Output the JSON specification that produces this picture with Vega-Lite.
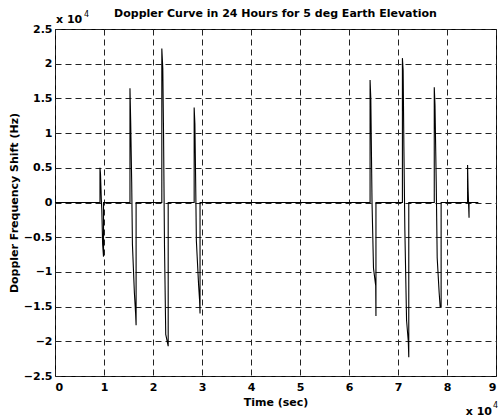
{
  "$schema": "https://vega.github.io/schema/vega-lite/v6.json",
  "width": 441,
  "height": 347,
  "autosize": "none",
  "padding": {"left": 55, "top": 29, "right": 3, "bottom": 41},
  "background": "white",
  "config": {
    "font": "DejaVu Sans",
    "view": {"stroke": "black", "strokeWidth": 1},
    "axis": {
      "domain": false,
      "grid": true,
      "gridColor": "#222",
      "gridDash": [6, 4],
      "gridWidth": 1,
      "gridOpacity": 1,
      "ticks": true,
      "tickColor": "black",
      "tickSize": 0,
      "labelOverlap": false,
      "labelFont": "DejaVu Sans",
      "labelFontSize": 11,
      "labelFontWeight": "bold",
      "labelColor": "black",
      "titleFont": "DejaVu Sans",
      "titleFontSize": 11,
      "titleFontWeight": "bold",
      "titleColor": "black"
    }
  },
  "title": {
    "text": "Doppler Curve in 24 Hours for 5 deg Earth Elevation",
    "font": "DejaVu Sans",
    "fontSize": 11,
    "fontWeight": "bold",
    "color": "black",
    "anchor": "middle",
    "baseline": "alphabetic",
    "offset": -17
  },
  "datasets": {
    "curve": [
      {"t": 0, "f": 0},
      {"t": 0.918, "f": 0},
      {"t": 0.918, "f": 0.5},
      {"t": 0.928, "f": 0.42},
      {"t": 0.945, "f": 0.05},
      {"t": 0.955, "f": -0.1},
      {"t": 0.972, "f": -0.6},
      {"t": 0.99, "f": -0.78},
      {"t": 0.99, "f": 0},
      {"t": 1.53, "f": 0},
      {"t": 1.53, "f": 1.645},
      {"t": 1.545, "f": 1.15},
      {"t": 1.565, "f": 0.3},
      {"t": 1.58, "f": -0.6},
      {"t": 1.62, "f": -1.3},
      {"t": 1.645, "f": -1.6},
      {"t": 1.655, "f": -1.77},
      {"t": 1.655, "f": 0},
      {"t": 2.18, "f": 0},
      {"t": 2.18, "f": 2.22},
      {"t": 2.2, "f": 1.93},
      {"t": 2.215, "f": 1.0},
      {"t": 2.235, "f": -0.65},
      {"t": 2.26, "f": -1.9},
      {"t": 2.31, "f": -2.07},
      {"t": 2.31, "f": 0},
      {"t": 2.84, "f": 0},
      {"t": 2.84, "f": 1.37},
      {"t": 2.855, "f": 1.13},
      {"t": 2.87, "f": 0.33},
      {"t": 2.885, "f": -0.55},
      {"t": 2.93, "f": -1.18},
      {"t": 2.95, "f": -1.4},
      {"t": 2.96, "f": -1.6},
      {"t": 2.96, "f": 0},
      {"t": 6.43, "f": 0},
      {"t": 6.43, "f": 1.765},
      {"t": 6.445, "f": 1.5},
      {"t": 6.47, "f": 0.0},
      {"t": 6.5, "f": -0.95},
      {"t": 6.545, "f": -1.2},
      {"t": 6.55, "f": -1.635},
      {"t": 6.55, "f": 0},
      {"t": 7.09, "f": 0},
      {"t": 7.09, "f": 2.08},
      {"t": 7.105, "f": 1.9},
      {"t": 7.12, "f": 0.8},
      {"t": 7.14, "f": -0.4},
      {"t": 7.175, "f": -1.7},
      {"t": 7.21, "f": -2.0},
      {"t": 7.22, "f": -2.23},
      {"t": 7.22, "f": 0},
      {"t": 7.74, "f": 0},
      {"t": 7.74, "f": 1.66},
      {"t": 7.755, "f": 1.4},
      {"t": 7.78, "f": 0.3},
      {"t": 7.8, "f": -0.8},
      {"t": 7.84, "f": -1.3},
      {"t": 7.86, "f": -1.5},
      {"t": 7.88, "f": -1.5},
      {"t": 7.88, "f": 0},
      {"t": 8.42, "f": 0},
      {"t": 8.42, "f": 0.54},
      {"t": 8.43, "f": 0.2},
      {"t": 8.45, "f": -0.22},
      {"t": 8.45, "f": 0},
      {"t": 8.64, "f": 0}
    ]
  },
  "layer": [
    {
      "data": {"name": "curve"},
      "transform": [{"window": [{"op": "row_number", "as": "i"}]}],
      "mark": {"type": "line", "color": "black", "strokeWidth": 1.1, "clip": true},
      "encoding": {
        "x": {
          "field": "t", "type": "quantitative",
          "scale": {"domain": [0, 9], "nice": false, "zero": false},
          "axis": {"values": [0,1,2,3,4,5,6,7,8,9], "tickCount": 20, "title": "Time (sec)", "labelPadding": 5, "titlePadding": 4, "format": "d"}
        },
        "y": {
          "field": "f", "type": "quantitative",
          "scale": {"domain": [-2.5, 2.5], "nice": false, "zero": false},
          "axis": {"values": [-2.5,-2,-1.5,-1,-0.5,0,0.5,1,1.5,2,2.5], "tickCount": 20, "title": "Doppler Frequency Shift (Hz)", "labelPadding": 3, "titlePadding": 4, "format": "~g"}
        },
        "order": {"field": "i", "type": "quantitative"}
      }
    },
    {
      "data": {"values": [{"t": 0, "f": 2.5, "lab": "x 10"}]},
      "mark": {"type": "text", "align": "left", "baseline": "alphabetic", "dx": 1, "dy": -6, "fontSize": 11, "fontWeight": "bold", "font": "DejaVu Sans", "color": "black"},
      "encoding": {"x": {"field": "t", "type": "quantitative"}, "y": {"field": "f", "type": "quantitative"}, "text": {"field": "lab"}}
    },
    {
      "data": {"values": [{"t": 0, "f": 2.5, "lab": "4"}]},
      "mark": {"type": "text", "align": "left", "baseline": "alphabetic", "dx": 29, "dy": -12, "fontSize": 8, "font": "DejaVu Sans", "color": "black"},
      "encoding": {"x": {"field": "t", "type": "quantitative"}, "y": {"field": "f", "type": "quantitative"}, "text": {"field": "lab"}}
    },
    {
      "data": {"values": [{"t": 9, "f": -2.5, "lab": "x 10"}]},
      "mark": {"type": "text", "align": "right", "baseline": "alphabetic", "dx": -4, "dy": 39, "fontSize": 11, "fontWeight": "bold", "font": "DejaVu Sans", "color": "black"},
      "encoding": {"x": {"field": "t", "type": "quantitative"}, "y": {"field": "f", "type": "quantitative"}, "text": {"field": "lab"}}
    },
    {
      "data": {"values": [{"t": 9, "f": -2.5, "lab": "4"}]},
      "mark": {"type": "text", "align": "left", "baseline": "alphabetic", "dx": -3, "dy": 32, "fontSize": 8, "font": "DejaVu Sans", "color": "black"},
      "encoding": {"x": {"field": "t", "type": "quantitative"}, "y": {"field": "f", "type": "quantitative"}, "text": {"field": "lab"}}
    }
  ]
}
